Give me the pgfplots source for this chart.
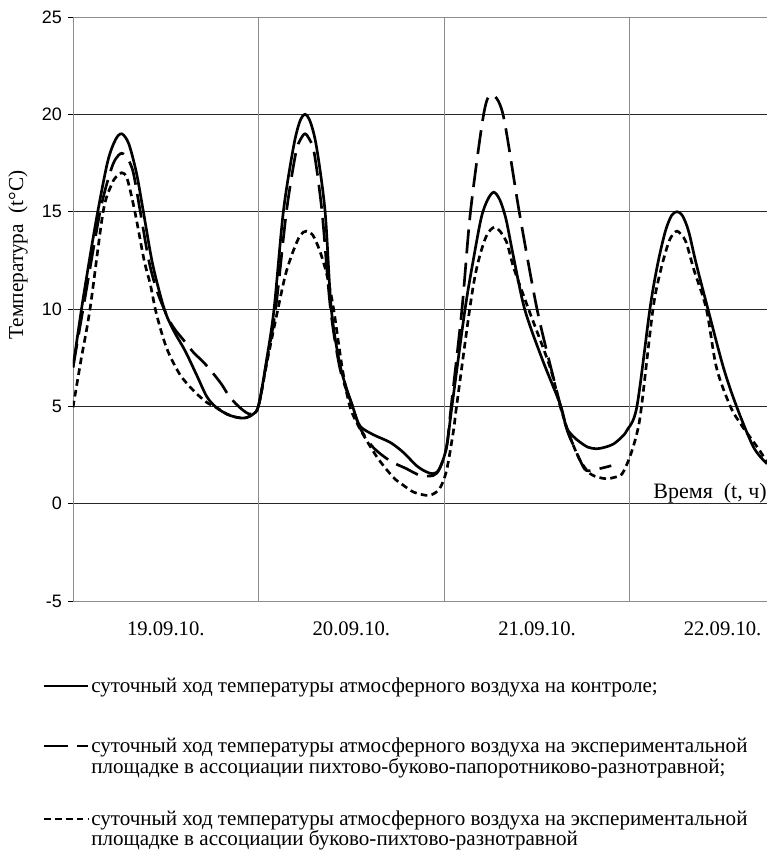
\documentclass[border=0pt]{standalone}
\usepackage{pgfplots}
\pgfplotsset{compat=1.18}
\usepackage{fontspec}
\setmainfont{Liberation Serif}
\newfontfamily\arial{Liberation Sans}
\definecolor{framegray}{HTML}{8C8C8C}
\tikzset{
  s1/.style={black, line width=2pt, solid},
  s2/.style={black, line width=2pt, dash pattern=on 18pt off 7pt},
  s3/.style={black, line width=2pt, dash pattern=on 5pt off 3.2pt},
}
\pgfplotstableread{
x y
0 7.0
1.1 10.0
2.2 12.7
3.2 15.0
4.5 17.6
5.5 18.7
6.3 19.0
7.2 18.5
8.2 17.0
9.1 15.0
10.3 12.3
11.8 10.0
13.0 8.9
14.5 7.85
16.0 6.6
17.3 5.5
18.5 4.95
19.9 4.6
21.0 4.45
22.2 4.4
23.3 4.6
24.0 5.05
25.0 7.3
26.0 10.0
27.2 15.0
28.5 18.3
29.3 19.6
30.0 20.0
30.7 19.6
31.5 18.3
32.6 15.0
33.4 10.0
34.6 7.0
36.2 4.95
37.1 4.0
38.8 3.55
41.0 3.15
42.7 2.64
44.4 1.96
45.6 1.65
46.6 1.54
47.4 1.8
48.3 2.9
49.0 5.0
50.7 10.0
51.8 12.6
52.8 14.7
53.6 15.6
54.4 16.0
55.2 15.6
56.0 14.6
56.9 12.8
58.4 10.0
60.6 7.5
63.0 5.1
63.8 3.92
64.7 3.45
65.6 3.15
66.6 2.9
67.7 2.82
68.8 2.9
69.9 3.07
70.9 3.4
71.6 3.75
72.9 4.95
74.6 10.0
75.6 12.3
76.6 14.0
77.4 14.8
78.1 15.0
78.8 14.8
79.6 14.0
80.6 12.3
82.1 10.0
84.1 7.0
85.8 5.0
88.0 2.9
89.74 2.05
}\control
\pgfplotstableread{
x y
0 7.0
1.3 10.0
3.5 15.0
4.8 17.0
5.5 17.7
6.3 18.0
7.1 17.7
7.8 17.0
8.7 15.0
9.8 12.5
10.8 11.0
12.1 9.7
13.0 9.05
14.3 8.4
15.6 7.76
16.8 7.3
17.9 6.8
19.2 6.14
20.3 5.46
21.8 4.86
23.0 4.6
24.0 5.05
25.0 7.2
26.2 10.0
27.6 15.0
28.8 18.0
29.4 18.7
30.0 19.0
30.6 18.7
31.2 18.0
32.2 15.0
33.3 10.0
34.6 6.8
36.2 4.95
37.1 3.9
38.8 2.9
41.0 2.2
43.1 1.8
44.9 1.45
46.6 1.45
47.4 1.8
48.3 2.9
48.9 5.0
50.3 10.0
51.4 15.0
53.1 20.0
54.1 21.0
55.6 20.0
57.7 15.0
60.0 10.0
62.1 6.5
63.8 3.9
64.6 3.1
65.6 2.2
66.4 1.7
68.1 1.8
69.6 1.95
}\fir
\pgfplotstableread{
x y
0 4.95
1.0 7.3
2.2 10.0
3.9 15.0
5.0 16.4
5.6 16.8
6.3 17.0
7.0 16.7
8.0 15.0
9.2 12.5
10.0 11.26
10.8 9.73
12.1 8.0
13.8 6.65
15.6 5.8
17.3 5.2
18.5 4.95
19.9 4.6
21.0 4.45
22.2 4.4
23.3 4.6
24.0 5.05
25.2 7.5
26.5 10.0
27.5 11.8
28.5 13.0
29.4 13.8
30.2 14.0
31.0 13.8
31.9 13.0
32.8 11.8
33.7 10.0
34.8 7.0
35.8 5.0
37.1 3.85
39.3 2.4
41.4 1.36
42.7 0.95
44.0 0.6
45.1 0.47
46.2 0.43
47.4 0.77
48.3 1.7
49.2 3.75
49.6 5.0
51.3 10.0
52.2 12.1
53.4 13.7
54.6 14.2
56.0 13.5
57.0 12.1
58.9 10.0
61.7 7.0
63.0 5.0
64.3 3.4
65.6 2.2
66.9 1.53
68.0 1.35
69.0 1.28
70.0 1.35
71.0 1.53
72.0 2.4
72.9 3.58
73.5 4.95
75.0 10.0
76.0 12.0
77.0 13.4
77.6 13.85
78.1 14.0
78.6 13.85
79.3 13.4
80.3 12.0
81.9 10.0
83.2 7.0
85.0 5.0
86.5 4.0
88.8 2.73
89.74 2.1
}\beech
\begin{document}
\begin{tikzpicture}
\begin{axis}[
  at={(0,0)}, anchor=south west,
  scale only axis, width=520.5pt, height=438pt,
  xmin=0, xmax=89.74, ymin=-5, ymax=25,
  axis line style={framegray, line width=0.7pt},
  xtick={12,36,60,84},
  xticklabels={19.09.10.,20.09.10.,21.09.10.,22.09.10.},
  xtick style={draw=none},
  xticklabel style={font=\fontsize{15.5}{17}\selectfont, yshift=-8pt},
  extra x ticks={24,48,72}, extra x tick labels={},
  extra x tick style={grid=major, major grid style={draw=framegray, line width=0.7pt}, tick style={draw=none}},
  ytick={-5,0,5,10,15,20,25},
  yticklabels={-5,0,5,10,15,20,25},
  ymajorgrids,
  major grid style={draw=black!85, line width=0.6pt},
  ytick pos=left, xtick pos=bottom,
  tick align=outside, major tick length=3.75pt,
  ytick style={black, line width=0.6pt},
  yticklabel style={font=\arial\fontsize{13.5}{15}\selectfont, xshift=-1pt},
]
\addplot[s1, smooth, tension=0.5] table[x=x,y=y] {\control};
\addplot[s2, smooth, tension=0.5] table[x=x,y=y] {\fir};
\addplot[s3, smooth, tension=0.5] table[x=x,y=y] {\beech};
\node[anchor=base east, font=\fontsize{16.5}{18}\selectfont, inner sep=0pt] at (axis cs:89.74,0.25) {Время\ \ (t, ч)};
\end{axis}
\node[rotate=90, font=\fontsize{16}{18}\selectfont] at (-41.25pt,259.5pt) {Температура\ \ (t°C)};
% legend
\draw[s1] (-21.75pt,-63.75pt) -- (11.25pt,-63.75pt);
\draw[s2] (-21.75pt,-108.75pt) -- (11.25pt,-108.75pt);
\draw[s3] (-21.75pt,-163.5pt) -- (11.25pt,-163.5pt);
\begin{scope}[every node/.style={anchor=base west, inner sep=0pt, font=\fontsize{15.8}{17}\selectfont}]
\node at (13.5pt,-68.25pt) {суточный ход температуры атмосферного воздуха на контроле;};
\node at (13.5pt,-113.25pt) {суточный ход температуры атмосферного воздуха на экспериментальной};
\node at (13.5pt,-129pt) {площадке в ассоциации пихтово-буково-папоротниково-разнотравной;};
\node at (13.5pt,-168pt) {суточный ход температуры атмосферного воздуха на экспериментальной};
\node at (13.5pt,-183.5pt) {площадке в ассоциации буково-пихтово-разнотравной};
\end{scope}
\pgfresetboundingbox
\path (-54.75pt,-186.75pt) rectangle (520.5pt,450.75pt);
\end{tikzpicture}
\end{document}
